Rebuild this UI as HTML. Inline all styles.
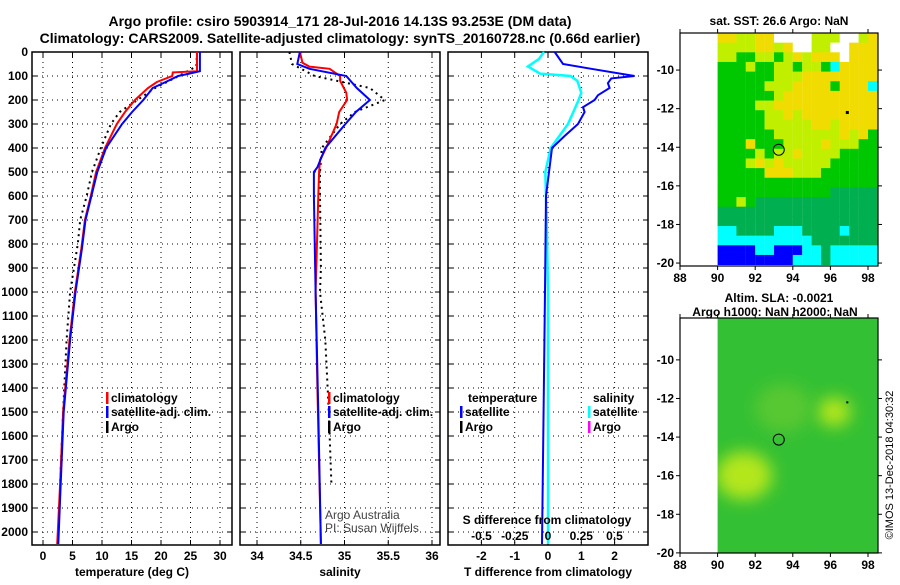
<!DOCTYPE html>
<html><head><meta charset="utf-8"><style>
body{margin:0;background:#fff;}
svg text{font-family:"Liberation Sans",sans-serif;font-weight:bold;fill:#000;}
</style></head><body>
<svg id="s" width="900" height="580" xmlns="http://www.w3.org/2000/svg">
<text x="340" y="26" font-size="14" text-anchor="middle">Argo profile: csiro 5903914_171 28-Jul-2016 14.13S 93.253E (DM data)</text>
<text x="340" y="43" font-size="14" text-anchor="middle">Climatology: CARS2009. Satellite-adjusted climatology: synTS_20160728.nc (0.66d earlier)</text>
<text transform="translate(893,465) rotate(-90)" font-size="11" text-anchor="middle" style="font-weight:normal">©IMOS 13-Dec-2018 04:30:32</text>
</svg>
<script>
// ---- data ----
const depthTicks=[0,100,200,300,400,500,600,700,800,900,1000,1100,1200,1300,1400,1500,1600,1700,1800,1900,2000];
const tTicks=[0,5,10,15,20,25,30];
const sTicks=[34,34.5,35,35.5,36];
const dTTicks=[-2,-1,0,1,2];
const dSTicks=[-0.5,-0.25,0,0.25,0.5];
const dSLabels=["-0.5","-0.25","0","0.25","0.5"];
const tClimD=[0,80,85,100,125,150,200,250,300,400,500,600,700,820,1000,1200,1500,1800,2050];
const tClimV=[26.1,26.1,22,21.9,19.3,17.8,15.6,13.9,12.5,10.5,9.0,8.1,7.1,6.5,5.4,4.5,3.4,2.9,2.4];
const tSatD=[0,80,90,100,125,150,200,250,300,400,500,600,700,820,1000,1200,1500,1800,2050];
const tSatV=[26.6,26.6,24.8,22.9,20.8,18.6,17,15.1,13.4,10.7,9.2,8.2,7.2,6.6,5.5,4.6,3.5,3.0,2.6];
const tArgoD=[0,60,100,150,200,250,300,400,500,600,700,800,1000,1200,1500,1800];
const tArgoV=[26.1,26,23,19,16,13,11.5,9.8,8.3,7.4,6.3,5.9,4.6,4.0,3.4,2.9];
const sClimD=[0,45,61,70,100,120,170,200,250,300,400,450,500,600,1000,1400,2050];
const sClimV=[34.49,34.52,34.6,34.83,34.95,34.95,35.02,35.03,34.94,34.91,34.79,34.72,34.71,34.7,34.67,34.69,34.73];
const sSatD=[0,50,70,100,150,200,250,300,400,480,500,600,1000,1500,2050];
const sSatV=[34.49,34.46,34.6,35.02,35.14,35.29,35.13,35.01,34.78,34.69,34.65,34.65,34.67,34.7,34.73];
const sArgoD=[0,50,100,150,200,250,300,400,500,600,900,1000,1200,1500,1800];
const sArgoV=[34.37,34.4,34.66,35.29,35.46,35.12,34.95,34.74,34.72,34.72,34.73,34.72,34.78,34.82,34.85];
const dTD=[0,50,70,100,110,130,150,180,200,230,250,300,350,400,500,600,1000,2050];
const dTV=[0.2,0.45,1.3,2.6,1.9,1.8,1.85,1.5,1.4,1.05,1.1,0.9,0.5,0.12,0.03,-0.06,-0.09,-0.18];
const dSD=[0,30,60,90,100,120,170,200,250,300,400,500,700,1000,2050];
const dSV=[-0.03,-0.07,-0.15,-0.06,0.17,0.22,0.25,0.23,0.19,0.15,0.02,-0.02,-0.01,0,0];
const latTicks=[-10,-12,-14,-16,-18,-20];
const lonTicks=[88,90,92,94,96,98];
const sstGrid=[
"YYLLYYWWWWLLLWWLY","LLLLYYLYWWLLWWYYY","LLGGLLGLYLYYYWYYY","GGGLGGLLGLLGCYYYY",
"GGGGGGLLLYYYYYYYY","GGGGGLLLYYYYGYYYC","GGGGGGLYYYYYYYYYY","GGGGLLYYYYYYYYYYY",
"GGGGGLLYLYYYYYYYY","GGGGGLLLLLYYLYYYY","GGGGGGLLLLLLLYLYG","GGGYGGGLLLLYLLLGG",
"GGGGLGLLYLLLLGGGG","GGGLYLYLLLLLGGGGG","GGGGGYYYLLLGGGGGG","GGGGGGGGGGGGGGGGG",
"GGGGGGGGGGGGDDDDD","GGLGDDDDDDDDDDDDD","DDDDDDDDDDDDDDDDD","DDDDDDDDDDDDDDDDD",
"CCDDDDCCCDDDDCDDD","CCCCCCCCCCDDDDDDD","BBBBCCBBBCCDCCCCC","BBBBBBBBCCCDCCCCC"];
const slaBlobLon=[91.4,96.2,93.5];
const slaBlobLat=[-16.0,-12.7,-12.5];
const slaBlobR=[1.5,0.9,1.5];
const argoLon=93.253, argoLat=-14.13;

const S=document.getElementById('s');
const NS='http://www.w3.org/2000/svg';
function el(t,a,p){const e=document.createElementNS(NS,t);for(const k in a)e.setAttribute(k,a[k]);(p||S).appendChild(e);return e;}
const top0=52, bot=545, yd=d=>top0+d*0.24;
const panels=[{x0:32,x1:232},{x0:240,x1:440},{x0:448,x1:648}];
const xT=v=>43+v*5.9, xS=v=>257+(v-34)*87.5, xdT=v=>548+v*33.3, xdS=v=>548+v*133;

panels.forEach((p,i)=>{
  const g=el('g',{});
  
  
  depthTicks.forEach(d=>{
    el('line',{x1:p.x0,x2:p.x1,y1:yd(d),y2:yd(d),stroke:'#000','stroke-dasharray':'1,4','stroke-width':1},g);
    el('line',{x1:p.x0,x2:p.x0+5,y1:yd(d),y2:yd(d),stroke:'#000'},g);
    el('line',{x1:p.x1-5,x2:p.x1,y1:yd(d),y2:yd(d),stroke:'#000'},g);
    if(i==0){const t=el('text',{x:28,y:yd(d)+4,'font-size':12,'text-anchor':'end'},g);t.textContent=d;
      }
  });
  const ticks=i==0?tTicks.map(xT):i==1?sTicks.map(xS):dTTicks.map(xdT);
  const labs=i==0?tTicks:i==1?sTicks:dTTicks;
  ticks.forEach((x,j)=>{
    el('line',{x1:x,x2:x,y1:top0,y2:bot,stroke:'#000','stroke-dasharray':'1,4'},g);
    el('line',{x1:x,x2:x,y1:bot,y2:bot-5,stroke:'#000'},g);
    el('line',{x1:x,x2:x,y1:top0,y2:top0+5,stroke:'#000'},g);
    const t=el('text',{x:x,y:560,'font-size':12,'text-anchor':'middle'},g);t.textContent=labs[j];
    
  });
  el('rect',{x:p.x0,y:top0,width:p.x1-p.x0,height:bot-top0,fill:'none',stroke:'#000','stroke-width':1.5},g);
});
[["temperature (deg C)",132],["salinity",340],["T difference from climatology",548]].forEach(a=>{
  const t=el('text',{x:a[1],y:576,'font-size':12,'text-anchor':'middle'});t.textContent=a[0];
  
});
function line(D,V,fx,col,w,dash,name){
  const pts=D.map((d,k)=>fx(V[k]).toFixed(1)+','+yd(d).toFixed(1)).join(' ');
  const e=el('polyline',{points:pts,fill:'none',stroke:col,'stroke-width':w});
  if(dash)e.setAttribute('stroke-dasharray',dash);
  
}
line(tArgoD,tArgoV,xT,'#000',2,'2,4','temp-argo-line');
line(tClimD,tClimV,xT,'#f00',2,null,'temp-climatology-line');
line(tSatD,tSatV,xT,'#00f',2,null,'temp-satellite-line');
line(sArgoD,sArgoV,xS,'#000',2,'2,4','sal-argo-line');
line(sClimD,sClimV,xS,'#f00',2,null,'sal-climatology-line');
line(sSatD,sSatV,xS,'#00f',2,null,'sal-satellite-line');
line(dSD,dSV,xdS,'#0ff',2.5,null,'sdiff-satellite-line');
line(dTD,dTV,xdT,'#00f',2,null,'tdiff-satellite-line');

function leg(x,y,col,txt,name){
  el('rect',{x:x,y:y-10,width:2.5,height:12,fill:col});
  const t=el('text',{x:x+5,y:y,'font-size':12});t.textContent=txt;
  
}
leg(106,402,'#f00','climatology','legend-climatology');
leg(106,416,'#00f','satellite-adj. clim.','legend-satellite');
leg(106,431,'#000','Argo','legend-argo');
leg(328,402,'#f00','climatology','legend-sal-climatology');
leg(328,416,'#00f','satellite-adj. clim.','legend-sal-satellite');
leg(328,431,'#000','Argo','legend-sal-argo');
let t=el('text',{x:468,y:402,'font-size':12});t.textContent='temperature';
leg(460,416,'#00f','satellite','legend-t-satellite');
leg(460,431,'#000','Argo','legend-t-argo');
t=el('text',{x:593,y:402,'font-size':12});t.textContent='salinity';
leg(588,416,'#0ff','satellite','legend-s-satellite');
leg(588,431,'#f0f','Argo','legend-s-argo');
t=el('text',{x:547,y:524,'font-size':12,'text-anchor':'middle'});t.textContent='S difference from climatology';
dSTicks.forEach((v,k)=>{const q=el('text',{x:xdS(v),y:540,'font-size':12,'text-anchor':'middle'});q.textContent=dSLabels[k];});
t=el('text',{x:325,y:519,'font-size':12,style:'font-weight:normal;fill:#444'});t.textContent='Argo Australia';
t=el('text',{x:325,y:532,'font-size':12,style:'font-weight:normal;fill:#444'});t.textContent='PI: Susan Wijffels';

// ---- maps ----
const col={Y:'#f0dc00',L:'#c0f000',G:'#00c800',D:'#00b050',C:'#00ffff',B:'#0000ff',W:'#ffffff'};
function map(y0,y1,latTop,name){
  const fx=l=>680+(l-88)*18.8, fy=la=>y0+(latTop-la)*19.3;
  const g=el('g',{});
  return {g,fx,fy,y0,y1};
}
function axes(m){
  el('rect',{x:680,y:m.y0,width:198,height:m.y1-m.y0,fill:'none',stroke:'#000','stroke-width':1.2},m.g);
  latTicks.forEach(la=>{const y=m.fy(la);if(y<m.y0||y>m.y1+2)return;
    el('line',{x1:680,x2:676,y1:y,y2:y,stroke:'#000'},m.g);el('line',{x1:878,x2:882,y1:y,y2:y,stroke:'#000'},m.g);
    const q=el('text',{x:674,y:y+4,'font-size':12,'text-anchor':'end'},m.g);q.textContent=la;});
  lonTicks.forEach(lo=>{const x=m.fx(lo);el('line',{x1:x,x2:x,y1:m.y1,y2:m.y1+4,stroke:'#000'},m.g);
    el('line',{x1:x,x2:x,y1:m.y0,y2:m.y0-4,stroke:'#000'},m.g);
    const q=el('text',{x:x,y:m.y1+16,'font-size':12,'text-anchor':'middle'},m.g);q.textContent=lo;});
  el('circle',{cx:m.fx(argoLon),cy:m.fy(argoLat),r:5.5,fill:'none',stroke:'#000'},m.g);
}
const m1=map(33,266,-8.08,'sst-map');
sstGrid.forEach((row,r)=>{for(let c=0;c<row.length;c++){
  const la=-8.08-r*0.5, lo=90+c*0.5;
  const y=m1.fy(la), h=Math.min(m1.fy(la-0.5),266)-y;
  el('rect',{x:m1.fx(lo),y:y,width:9.5,height:h+0.4,fill:col[row[c]]},m1.g);}});
el('rect',{x:m1.fx(96.9)-1.5,y:m1.fy(-12.2)-1.5,width:3,height:3,fill:'#000'},m1.g);
axes(m1);
t=el('text',{x:779,y:25,'font-size':12,'text-anchor':'middle'});t.textContent='sat. SST: 26.6 Argo: NaN';

const m2=map(318,553,-7.83,'sla-map');
const defs=el('defs',{});const f=el('filter',{id:'bl',x:'-50%',y:'-50%',width:'200%',height:'200%'},defs);
el('feGaussianBlur',{stdDeviation:8},f);
const cp=el('clipPath',{id:'cp'},defs);el('rect',{x:m2.fx(90),y:318,width:m2.fx(98.5)-m2.fx(90),height:235},cp);
el('rect',{x:m2.fx(90),y:318,width:m2.fx(98.5)-m2.fx(90),height:235,fill:'#34c034'},m2.g);
const bg=el('g',{'clip-path':'url(#cp)'},m2.g);
slaBlobLon.forEach((lo,k)=>{el('ellipse',{cx:m2.fx(lo),cy:m2.fy(slaBlobLat[k]),rx:slaBlobR[k]*18.8,ry:slaBlobR[k]*16,fill:k==2?'#58c830':'#b4e61e',filter:'url(#bl)'},bg);});
el('rect',{x:m2.fx(96.9)-1,y:m2.fy(-12.2)-1,width:2,height:2,fill:'#000'},m2.g);
axes(m2);
t=el('text',{x:779,y:302,'font-size':12,'text-anchor':'middle'});t.textContent='Altim. SLA: -0.0021';
t=el('text',{x:775,y:316,'font-size':12,'text-anchor':'middle'});t.textContent='Argo h1000: NaN h2000: NaN';
</script>
</body></html>
